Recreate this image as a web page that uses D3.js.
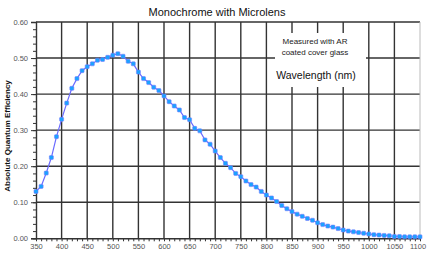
<!DOCTYPE html>
<html>
<head>
<meta charset="utf-8">
<script src="https://cdn.jsdelivr.net/npm/d3@7"></script>
<style>
  html, body { margin: 0; padding: 0; background: #fff; }
  svg { display: block; font-family: "Liberation Sans", Arial, sans-serif; }
</style>
</head>
<body>
<svg id="chart" width="427" height="254"></svg>
<script>
const wavelengths = [350,360,370,380,390,400,410,420,430,440,450,460,470,480,490,500,510,520,530,540,
  550,560,570,580,590,600,610,620,630,640,650,660,670,680,690,700,710,720,730,740,
  750,760,770,780,790,800,810,820,830,840,850,860,870,880,890,900,910,920,930,940,
  950,960,970,980,990,1000,1010,1020,1030,1040,1050,1060,1070,1080,1090,1100];
const efficiency = [0.130,0.144,0.181,0.224,0.282,0.330,0.375,0.416,0.443,0.465,0.476,0.484,0.494,0.496,0.502,0.508,0.512,0.505,0.491,0.484,
  0.461,0.443,0.432,0.419,0.410,0.395,0.379,0.367,0.356,0.335,0.329,0.305,0.298,0.273,0.261,0.242,0.224,0.208,0.196,0.180,
  0.171,0.159,0.149,0.142,0.130,0.120,0.112,0.102,0.091,0.082,0.074,0.067,0.061,0.055,0.050,0.043,0.038,0.034,0.031,0.027,
  0.023,0.020,0.018,0.016,0.014,0.012,0.010,0.009,0.008,0.007,0.005,0.005,0.004,0.004,0.004,0.004];
const xTicks = [350,400,450,500,550,600,650,700,750,800,850,900,950,1000,1050,1100];
const yTicks = [0,0.1,0.2,0.3,0.4,0.5,0.6];
const title = "Monochrome with Microlens";
const yTitle = "Absolute Quantum Efficiency";
const noteLines = ["Measured with AR", "coated cover glass"];
const xTitle = "Wavelength (nm)";

const svg = d3.select("#chart");
const L = 36, R = 420, T = 22, B = 238.3;
const x = d3.scaleLinear().domain([350, 1100]).range([L, R]);
const y = d3.scaleLinear().domain([0, 0.6]).range([B, T]);

// minor ticks
const yMinor = d3.range(0, 0.6001, 0.02);
svg.append("g").attr("transform", `translate(${L},0)`)
  .call(d3.axisLeft(y).tickValues(yMinor).tickSize(3).tickFormat(""))
  .call(g => g.select(".domain").remove())
  .call(g => g.selectAll("line").attr("stroke", "#333"));
svg.append("g").attr("transform", `translate(0,${B})`)
  .call(d3.axisBottom(x).tickValues(wavelengths).tickSize(3).tickFormat(""))
  .call(g => g.select(".domain").remove())
  .call(g => g.selectAll("line").attr("stroke", "#333"));

// grid
svg.append("g").selectAll("line").data(xTicks.filter(d => d > 350 && d < 1100)).join("line")
  .attr("x1", d => x(d)).attr("x2", d => x(d)).attr("y1", T).attr("y2", B)
  .attr("stroke", "#333").attr("stroke-width", 1.4);
svg.append("g").selectAll("line").data(yTicks.filter(d => d > 0)).join("line")
  .attr("x1", L).attr("x2", R).attr("y1", d => y(d)).attr("y2", d => y(d))
  .attr("stroke", "#333").attr("stroke-width", 1.4);
// right border
svg.append("line").attr("x1", R).attr("x2", R).attr("y1", T).attr("y2", B)
  .attr("stroke", "#bbb").attr("stroke-width", 1);

// axes
svg.append("g").attr("transform", `translate(${L},0)`)
  .call(d3.axisLeft(y).tickValues(yTicks).tickSize(5).tickPadding(3).tickFormat(d3.format(".2f")))
  .call(g => g.select(".domain").attr("stroke", "#333").attr("stroke-width", 1.4))
  .call(g => g.selectAll("line").attr("stroke", "#333"))
  .call(g => g.selectAll("text").attr("fill", "#555").attr("font-size", "7.5px").attr("font-family", "Liberation Sans, Arial, sans-serif"));
svg.append("g").attr("transform", `translate(0,${B})`)
  .call(d3.axisBottom(x).tickValues(xTicks).tickSize(0).tickPadding(5).tickFormat(d3.format("d")))
  .call(g => g.select(".domain").attr("stroke", "#333").attr("stroke-width", 1.4))
  .call(g => g.selectAll("text").attr("fill", "#555").attr("font-size", "7.5px").attr("font-family", "Liberation Sans, Arial, sans-serif")
    .attr("dx", d => d === 1100 ? -2.5 : 0));

// note box
svg.append("rect").attr("x", 275).attr("y", 33).attr("width", 91).attr("height", 54).attr("fill", "#fff");
svg.append("g").selectAll("text").data(noteLines).join("text")
  .attr("x", 315).attr("y", (d, i) => 44 + i * 10.5)
  .attr("text-anchor", "middle").attr("font-size", "8px").attr("fill", "#222").text(d => d);
svg.append("text").attr("x", 316).attr("y", 79).attr("text-anchor", "middle")
  .attr("font-size", "10.5px").attr("fill", "#111").text(xTitle);

// title
svg.append("text").attr("x", 217).attr("y", 15.5).attr("text-anchor", "middle")
  .attr("font-size", "11px").attr("fill", "#111").text(title);
// y title
svg.append("text").attr("transform", "translate(10,136) rotate(-90)")
  .attr("text-anchor", "middle").attr("font-size", "8px").attr("font-weight", "bold")
  .attr("fill", "#111").text(yTitle);

// data
const data = wavelengths.map((w, i) => ({ w, v: efficiency[i] }));
svg.append("path").datum(data)
  .attr("fill", "none").attr("stroke", "#6a6aff").attr("stroke-width", 1.2)
  .attr("d", d3.line().x(d => x(d.w)).y(d => y(d.v)));
svg.append("g").selectAll("rect").data(data).join("rect")
  .attr("x", d => x(d.w) - 2).attr("y", d => y(d.v) - 2)
  .attr("width", 4).attr("height", 4).attr("rx", 0.8)
  .attr("fill", "#1aa3ff").attr("stroke", "#7a7aff").attr("stroke-width", 0.6);
</script>
</body>
</html>
